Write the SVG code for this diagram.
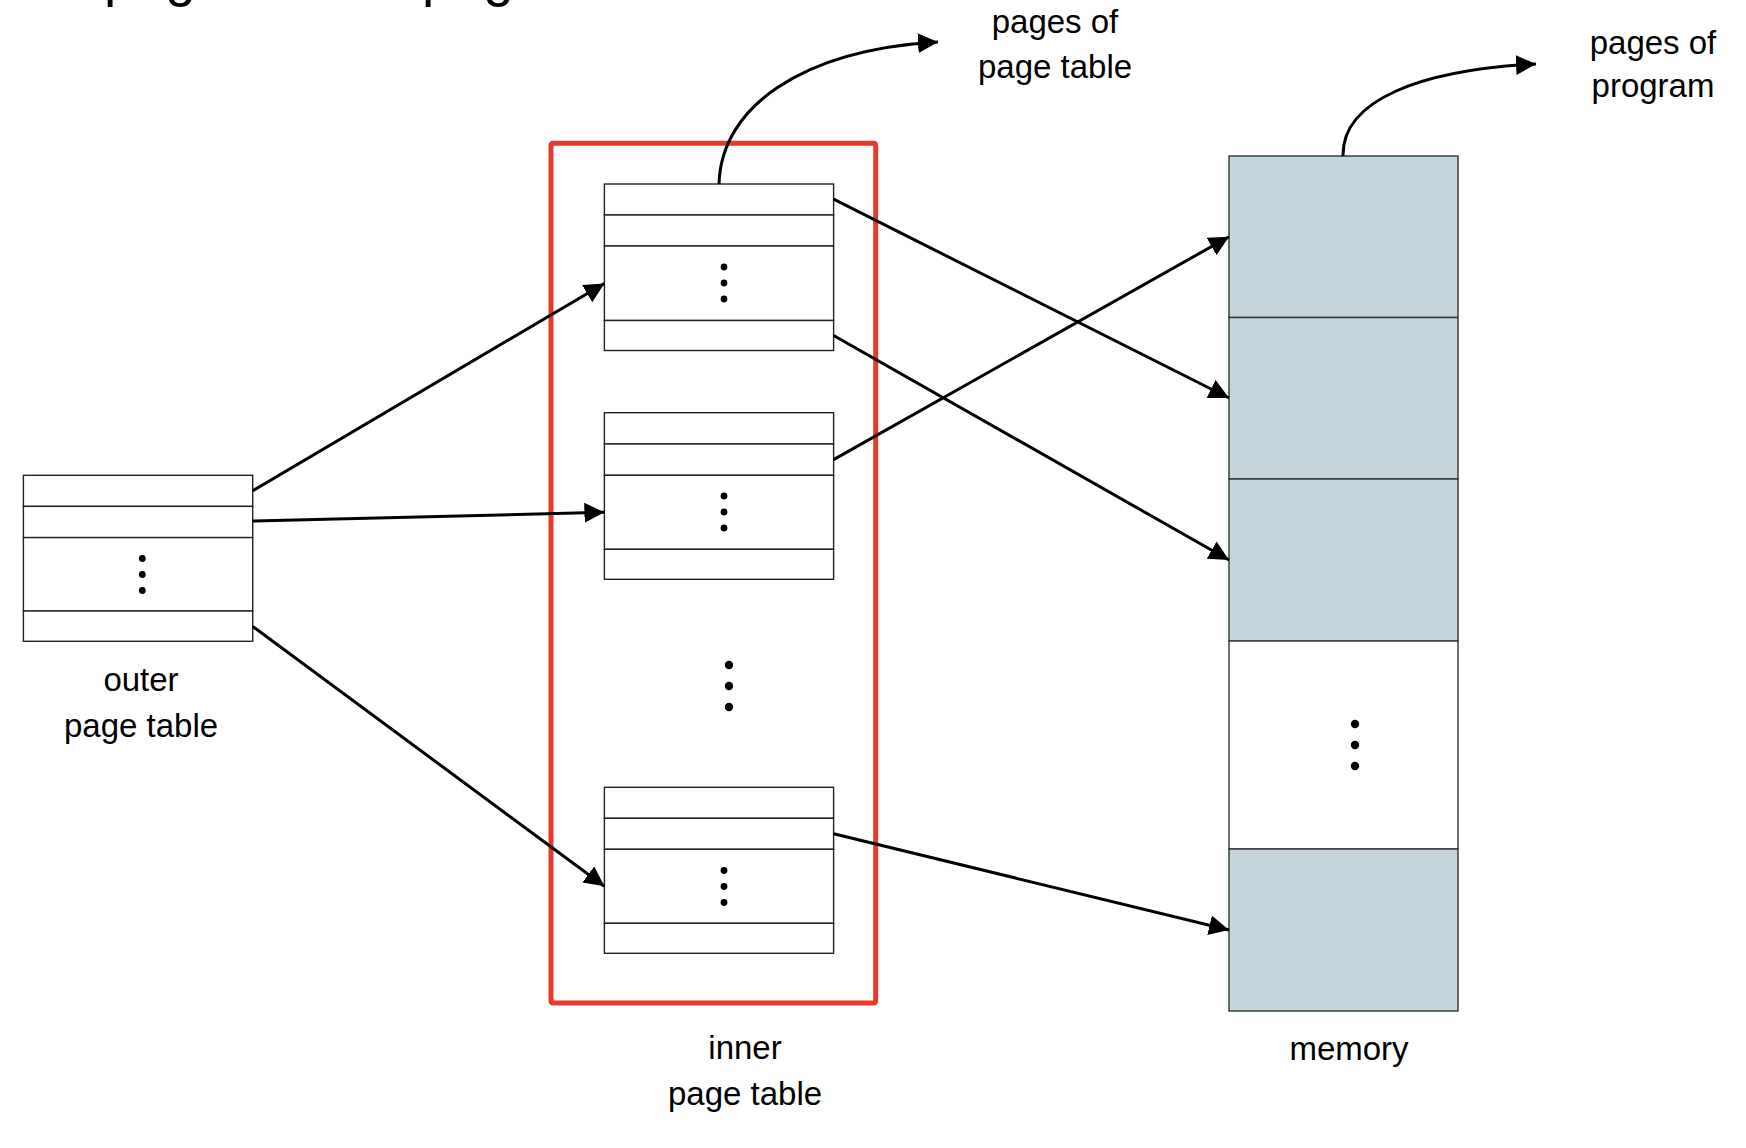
<svg xmlns="http://www.w3.org/2000/svg" width="1746" height="1148" viewBox="0 0 1746 1148">
<defs>
<marker id="arr" markerUnits="userSpaceOnUse" markerWidth="20" markerHeight="20" refX="20" refY="10" orient="auto">
<path d="M0,0 L20,10 L0,20 z" fill="#000"/>
</marker>
<style>
.lbl{font-family:"Liberation Sans",Arial,sans-serif;font-size:33px;fill:#000;text-anchor:middle}
.ttl{font-family:"Liberation Sans",Arial,sans-serif;font-size:55px;fill:#000}
.cell{fill:#fff;stroke:#222;stroke-width:1.4}
.mem{fill:#C4D5DC;stroke:#333;stroke-width:1.4}
.memw{fill:#fff;stroke:#333;stroke-width:1.4}
.conn{fill:none;stroke:#000;stroke-width:3;marker-end:url(#arr)}
.dot{fill:#000}
</style>
</defs>
<rect width="1746" height="1148" fill="#fff"/>
<text class="ttl" x="104" y="-5">pages of the page table</text>

<g id="outer-page-table">
<rect class="cell" x="23.4" y="475.3" width="229.3" height="31.1"/>
<rect class="cell" x="23.4" y="506.4" width="229.3" height="31.2"/>
<rect class="cell" x="23.4" y="537.6" width="229.3" height="73.4"/>
<rect class="cell" x="23.4" y="611" width="229.3" height="30.3"/>
<circle class="dot" cx="142.3" cy="558.5" r="3.4"/>
<circle class="dot" cx="142.3" cy="574.5" r="3.4"/>
<circle class="dot" cx="142.3" cy="590.5" r="3.4"/>
<text class="lbl" x="141" y="691">outer</text>
<text class="lbl" x="141" y="737">page table</text>
</g>

<g id="inner-page-table">
<rect x="551" y="143.2" width="324.7" height="859.8" rx="2" fill="none" stroke="#E83A2C" stroke-width="5"/>
<circle class="dot" cx="729" cy="665" r="4.2"/>
<circle class="dot" cx="729" cy="686" r="4.2"/>
<circle class="dot" cx="729" cy="707" r="4.2"/>
<text class="lbl" x="745" y="1059">inner</text>
<text class="lbl" x="745" y="1105">page table</text>
</g>

<g id="inner-table-1">
<rect class="cell" x="604.4" y="184" width="229.2" height="31"/>
<rect class="cell" x="604.4" y="215" width="229.2" height="31"/>
<rect class="cell" x="604.4" y="246" width="229.2" height="74.5"/>
<rect class="cell" x="604.4" y="320.5" width="229.2" height="30"/>
<circle class="dot" cx="724" cy="267" r="3.4"/>
<circle class="dot" cx="724" cy="283" r="3.4"/>
<circle class="dot" cx="724" cy="299" r="3.4"/>
</g>

<g id="inner-table-2">
<rect class="cell" x="604.4" y="412.7" width="229.2" height="31.3"/>
<rect class="cell" x="604.4" y="444" width="229.2" height="31.3"/>
<rect class="cell" x="604.4" y="475.3" width="229.2" height="74"/>
<rect class="cell" x="604.4" y="549.3" width="229.2" height="30"/>
<circle class="dot" cx="724" cy="496" r="3.4"/>
<circle class="dot" cx="724" cy="512" r="3.4"/>
<circle class="dot" cx="724" cy="528" r="3.4"/>
</g>

<g id="inner-table-3">
<rect class="cell" x="604.4" y="787.3" width="229.2" height="31"/>
<rect class="cell" x="604.4" y="818.3" width="229.2" height="31"/>
<rect class="cell" x="604.4" y="849.3" width="229.2" height="74"/>
<rect class="cell" x="604.4" y="923.3" width="229.2" height="30"/>
<circle class="dot" cx="724" cy="870.5" r="3.4"/>
<circle class="dot" cx="724" cy="886.5" r="3.4"/>
<circle class="dot" cx="724" cy="902.5" r="3.4"/>
</g>

<g id="memory">
<rect class="mem" x="1229" y="156" width="229" height="161.5"/>
<rect class="mem" x="1229" y="317.5" width="229" height="161.5"/>
<rect class="mem" x="1229" y="479" width="229" height="162"/>
<rect class="memw" x="1229" y="641" width="229" height="208"/>
<rect class="mem" x="1229" y="849" width="229" height="162"/>
<circle class="dot" cx="1355" cy="724" r="4.2"/>
<circle class="dot" cx="1355" cy="745" r="4.2"/>
<circle class="dot" cx="1355" cy="766" r="4.2"/>
<text class="lbl" x="1349" y="1060">memory</text>
</g>

<g id="label-pages-of-page-table">
<text class="lbl" x="1055" y="32.5">pages of</text>
<text class="lbl" x="1055" y="77.7">page table</text>
</g>

<g id="label-pages-of-program">
<text class="lbl" x="1653" y="54.3">pages of</text>
<text class="lbl" x="1653" y="97.3">program</text>
</g>

<g id="connectors">
<path class="conn" d="M252.7,490.7 L604.4,283.5"/>
<path class="conn" d="M252.7,521 L604.4,512.3"/>
<path class="conn" d="M252.7,626.5 L604.4,886.3"/>
<path class="conn" d="M833.6,199.2 L1229,398"/>
<path class="conn" d="M833.6,335.5 L1229,560"/>
<path class="conn" d="M833.6,459.6 L1229,236.7"/>
<path class="conn" d="M833.6,833.8 L1229,930"/>
<path class="conn" d="M719,184 C721,108 800,50 938,42"/>
<path class="conn" d="M1343,156 C1342,100 1420,70 1536,64"/>
</g>
</svg>
